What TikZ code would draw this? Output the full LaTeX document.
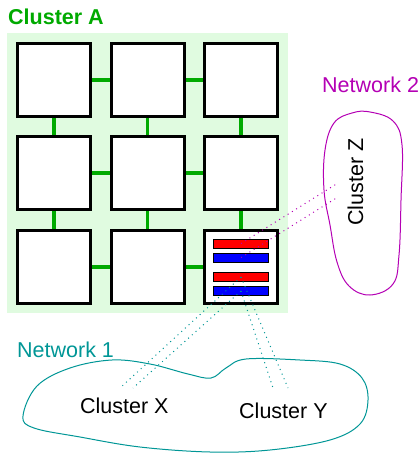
\documentclass[tikz,border=0pt]{standalone}
\usepackage{fontspec}
\setmainfont{Liberation Sans}
\usetikzlibrary{backgrounds}
\definecolor{gridgreen}{RGB}{0,170,0}
\definecolor{palegreen}{RGB}{224,251,224}
\definecolor{netteal}{RGB}{0,150,150}
\definecolor{netpurple}{RGB}{180,0,180}
\tikzset{
  cell/.style={draw=black, line width=3bp, fill=white, minimum size=73bp,
    inner sep=0pt, outer sep=0pt},
  link/.style={draw=gridgreen, line width=4bp},
  thinlink/.style={draw=gridgreen, line width=2.7bp},
  bar/.style={draw=black, line width=1bp, minimum width=55bp,
    minimum height=9bp, inner sep=0pt, outer sep=0pt},
  label/.style={font=\fontsize{21.5bp}{26bp}\selectfont, inner sep=0pt},
  blob/.style={line width=1bp},
  tealdots/.style={draw=netteal, line width=1bp, dash pattern=on 1bp off 4bp},
  purpledots/.style={draw=netpurple, line width=1bp, dash pattern=on 1bp off 4bp},
}
\begin{document}
\begin{tikzpicture}[x=1bp, y=-1bp]
\useasboundingbox (0,0) rectangle (419,454);

% cluster A: a 3x3 grid of nodes
\node[label, font=\fontsize{21.5bp}{26bp}\selectfont\bfseries, text=gridgreen,
  anchor=base west] (titleA) at (8,25) {Cluster A};
\foreach \r/\y in {1/80,2/173,3/267}{
  \foreach \c/\x in {1/54,2/147.5,3/241}{
    \node[cell] (b\r\c) at (\x,\y) {};
  }
}

\begin{scope}[on background layer]
  \fill[palegreen] (7,33) rectangle (288,313);
  \foreach \r in {1,2,3}{
    \draw[link] (b\r1) -- (b\r2);
    \draw[link] (b\r2) -- (b\r3);
  }
  \draw[link] (b11) -- (b21);
  \draw[link] (b21) -- (b31);
  \draw[thinlink] (b12) -- (b22);
  \draw[link, line width=3.3bp] (b22) -- (b32);
  \draw[link] (b13) -- (b23);
  \draw[link] (b23) -- (b33);
\end{scope}

% gateway bars in the corner node
\node[bar, fill=red]  (r1) at (241,243.5) {};
\node[bar, fill=blue] (u1) at (241,257.5) {};
\node[bar, fill=red]  (r2) at (241,277) {};
\node[bar, fill=blue] (u2) at (241,291) {};

% network 2
\node[label, text=netpurple, anchor=base west] (net2) at (322,93) {Network 2};
\draw[blob, netpurple] plot[smooth cycle, tension=0.65] coordinates {
  (370,112) (393,121) (402,145) (401,200) (399,255) (393,284) (370,295)
  (349,286) (337,262) (330,225) (324,190) (325,150) (334,123) (352,113)};
\node[label, rotate=90, anchor=base west] (cz) at (363,226) {Cluster Z};

% network 1
\node[label, text=netteal, anchor=base west] (net1) at (17,357) {Network 1};
\draw[blob, netteal] plot[smooth cycle, tension=0.6] coordinates {
  (23,416) (37,386) (70,368) (112,360) (150,364) (188,374) (211,378)
  (226,368) (246,359) (300,360) (340,364) (362,378) (368,400) (360,424)
  (330,440) (270,450) (210,452) (140,447) (80,437) (34,428)};
\node[label, anchor=base west] (cx) at (80,413) {Cluster X};
\node[label, anchor=base west] (cy) at (239,418) {Cluster Y};

% dotted routes from the gateway bars
\coordinate (z1) at (338,183);
\coordinate (z2) at (338,197);
\coordinate (x1) at (120,388);
\coordinate (x2) at (133,388);
\coordinate (y1) at (273,388);
\coordinate (y2) at (288,388);
\draw[purpledots] (r1.center) -- (z1);
\draw[purpledots] (u1.center) -- (z2);
\draw[tealdots] (r2.center) -- (x1);
\draw[tealdots] (r2.center) -- (y2);
\draw[tealdots] (u2.center) -- (x2);
\draw[tealdots] (u2.center) -- (y1);
\end{tikzpicture}
\end{document}
